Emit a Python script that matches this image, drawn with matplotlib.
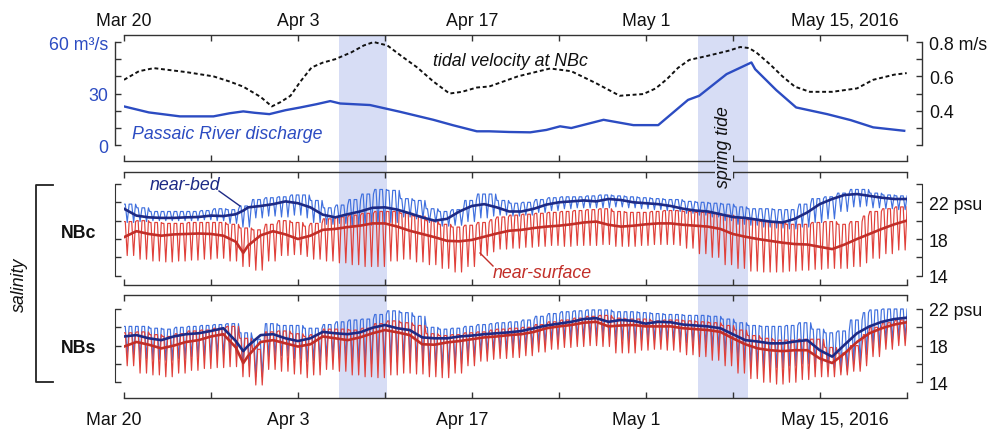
import matplotlib
matplotlib.use('Agg')
import matplotlib.pyplot as plt
from matplotlib.lines import Line2D

plt.rcParams['font.family'] = ['Liberation Sans', 'DejaVu Sans']

# =========================================================
# data (days since Mar 20, 2016)
# =========================================================
DATE_TICKS  = [0, 7, 14, 21, 28, 35, 42, 49, 56, 63]
DATE_LABELS = ['Mar 20', '', 'Apr 3', '', 'Apr 17', '', 'May 1', '', 'May 15, 2016', '']

SPRING_TIDES = [(17.3, 21.15), (46.2, 50.2)]

# Passaic River discharge (m3/s)
Q_DAYS = [0, 2.0, 4.5, 7.2, 8.5, 9.6, 10.5, 11.7, 13.0, 14.2, 15.5, 16.6, 17.4, 19.8,
          22.2, 24.9, 26.5, 28.4, 29.4, 31.0, 32.7, 34.0, 35.1, 36.0, 38.6, 41.0, 43.0,
          45.4, 46.3, 48.5, 50.5, 50.8, 52.5, 54.1, 56.6, 58.5, 60.3, 62.8]
Q_VALUES = [22.5, 19.0, 16.7, 16.7, 18.5, 19.6, 18.8, 18.0, 20.3, 21.9, 23.8, 25.6, 24.2, 23.3,
            19.4, 14.7, 11.5, 8.0, 8.0, 7.6, 7.4, 8.8, 10.9, 9.9, 14.7, 11.6, 11.6,
            26.3, 28.7, 41.3, 48.1, 44.2, 32.0, 21.9, 18.0, 14.5, 10.3, 8.3]

# tidal velocity amplitude at NBc (m/s)
V_DAYS = [0, 1.2, 2.4, 5.0, 7.2, 8.5, 9.6, 11.0, 11.9, 12.6, 13.4, 14.2, 15.1, 16.0, 17.0,
          18.3, 19.3, 20.1, 21.2, 22.3, 23.6, 24.9, 26.2, 27.2, 28.4, 29.4, 31.7, 34.3,
          36.0, 38.0, 39.9, 41.8, 42.8, 43.7, 44.6, 45.5, 47.0, 48.7, 49.6, 50.3, 50.9,
          52.0, 53.0, 54.0, 55.2, 57.0, 59.0, 60.3, 62.0, 63.0]
V_VALUES = [0.58, 0.63, 0.648, 0.625, 0.60, 0.57, 0.54, 0.48, 0.425, 0.45, 0.487, 0.57, 0.652, 0.68, 0.70,
            0.74, 0.78, 0.80, 0.78, 0.72, 0.652, 0.57, 0.50, 0.51, 0.535, 0.541, 0.60, 0.646,
            0.63, 0.56, 0.487, 0.497, 0.53, 0.584, 0.65, 0.696, 0.72, 0.75, 0.771, 0.765, 0.739,
            0.67, 0.60, 0.54, 0.51, 0.51, 0.53, 0.58, 0.61, 0.619]

# tidally filtered salinity (psu)
LP_DAYS = [0, 1, 2, 3, 4, 5, 6, 7, 8, 9, 9.6] + list(range(10, 64))
NBC_BED_LP = [21.3, 20.55, 20.36, 20.3, 20.3, 20.36, 20.4, 20.55, 20.5, 20.7, 21.1,
              21.45, 21.6, 21.8, 22.1, 21.9, 21.45, 20.65, 20.36, 20.7, 21.0,
              21.4, 21.45, 21.2, 20.8, 20.36, 20.0, 20.2, 21.0, 21.6, 21.8,
              21.45, 21.0, 21.0, 21.3, 21.75, 22.0, 22.1, 22.2, 22.1, 22.36,
              22.25, 22.0, 21.9, 21.8, 21.6, 21.3, 21.1, 21.0, 20.7, 20.4,
              20.3, 20.1, 19.9, 19.8, 20.2, 20.9, 21.8, 22.36, 22.8, 22.9,
              22.7, 22.5, 22.36, 22.36]
NBC_SURF_LP = [18.2, 18.85, 18.55, 18.36, 18.5, 18.55, 18.6, 18.55, 18.36, 17.7, 16.5,
               17.3, 18.4, 18.85, 18.5, 18.0, 18.36, 19.0, 19.1, 19.3, 19.45,
               19.7, 19.7, 19.35, 18.9, 18.55, 18.2, 17.8, 17.75, 17.9, 18.25,
               18.6, 18.9, 19.0, 19.2, 19.35, 19.45, 19.6, 19.8, 19.9, 19.55,
               19.35, 19.45, 19.6, 19.7, 19.7, 19.55, 19.45, 19.35, 19.1, 18.55,
               18.25, 18.0, 17.8, 17.6, 17.45, 17.4, 17.15, 16.9, 17.4, 18.0,
               18.55, 19.1, 19.6, 20.0]
NBS_BED_LP = [19.0, 19.15, 18.8, 18.6, 19.0, 19.25, 19.35, 19.6, 19.9, 18.5, 17.4,
              18.0, 19.15, 19.25, 18.8, 18.5, 18.8, 19.5, 19.35, 19.25, 19.45,
              19.95, 20.25, 19.9, 19.7, 18.9, 18.8, 18.8, 19.0, 19.1, 19.25,
              19.35, 19.45, 19.6, 19.9, 20.2, 20.4, 20.6, 20.9, 21.0, 20.6,
              20.8, 20.7, 20.4, 20.6, 20.55, 20.3, 20.2, 20.1, 19.9, 19.25,
              18.6, 18.45, 18.25, 18.25, 18.45, 18.6, 17.5, 16.8, 18.1, 19.35,
              20.1, 20.6, 20.9, 21.05]
NBS_SURF_LP = [17.9, 18.4, 18.1, 17.7, 18.0, 18.4, 18.6, 19.0, 19.25, 17.8, 16.1,
               16.9, 18.4, 18.6, 18.25, 17.9, 18.15, 19.0, 18.8, 18.6, 18.9,
               19.35, 19.7, 19.45, 19.15, 18.15, 18.1, 18.35, 18.5, 18.7, 18.9,
               19.0, 19.15, 19.25, 19.5, 19.9, 20.1, 20.25, 20.5, 20.6, 20.1,
               20.2, 20.25, 20.1, 20.1, 20.1, 19.9, 19.8, 19.7, 19.5, 18.8,
               18.15, 17.7, 17.5, 17.4, 17.5, 17.5, 16.6, 16.1, 17.15, 18.4,
               19.35, 19.9, 20.3, 20.55]

# raw salinity: daily tidal highs / lows (day 0..63)
NBC_BED_HI = [21.8, 21.4, 21.0, 21.0, 21.0, 21.0, 21.1, 21.3, 21.2, 21.6,
              22.3, 22.5, 22.6, 22.8, 22.8, 22.2, 21.4, 21.7, 22.3, 22.9,
              23.4, 23.3, 22.4, 22.2, 21.3, 21.0, 21.2, 22.2, 22.9, 22.9,
              22.2, 21.9, 22.0, 22.3, 22.5, 22.6, 22.6, 22.7, 22.8, 22.7,
              22.6, 22.5, 22.4, 22.3, 22.3, 22.1, 22.0, 21.9, 21.8, 21.5,
              21.3, 21.3, 21.2, 21.2, 21.8, 22.4, 22.6, 23.0, 23.4, 23.4,
              23.0, 22.8, 22.7, 22.7]
NBC_BED_LO = [19.8, 19.9, 20.0, 20.0, 20.0, 20.0, 20.1, 20.0, 19.7, 19.3,
              20.3, 20.5, 20.4, 20.6, 20.3, 19.8, 19.6, 19.7, 19.4, 19.5,
              19.6, 19.8, 20.4, 20.2, 19.8, 19.4, 19.5, 19.9, 20.3, 20.5,
              20.6, 20.5, 20.6, 20.9, 21.1, 21.3, 21.4, 21.4, 21.4, 21.5,
              21.4, 21.3, 21.2, 21.1, 21.0, 20.8, 20.6, 20.4, 20.0, 19.6,
              19.5, 19.3, 19.2, 19.1, 19.3, 19.8, 20.2, 21.0, 21.5, 21.6,
              21.4, 21.3, 21.2, 21.2]
NBC_SURF_HI = [19.9, 20.0, 19.8, 19.7, 19.7, 19.8, 19.8, 19.8, 19.6, 19.2,
               19.0, 19.6, 20.0, 19.8, 19.4, 19.7, 20.2, 20.4, 20.6, 20.8,
               21.0, 21.0, 20.8, 20.5, 20.0, 19.6, 19.3, 19.5, 19.8, 20.1,
               20.4, 20.6, 20.7, 20.8, 20.9, 21.0, 21.1, 21.2, 21.3, 21.0,
               20.9, 20.9, 21.0, 21.1, 21.1, 21.0, 20.9, 20.8, 20.6, 20.3,
               20.1, 19.9, 19.8, 19.6, 19.6, 19.8, 19.9, 19.6, 19.9, 20.5,
               21.0, 21.3, 21.5, 21.6]
NBC_SURF_LO = [16.2, 15.8, 15.6, 15.5, 15.6, 15.7, 15.8, 15.9, 15.6, 15.0,
               14.6, 15.6, 16.2, 16.3, 16.1, 15.8, 15.6, 15.4, 15.2, 15.0,
               15.0, 15.6, 15.8, 15.5, 15.2, 14.8, 14.4, 15.0, 16.2, 16.6,
               16.9, 17.0, 17.1, 17.2, 17.3, 17.2, 17.3, 17.3, 17.4, 17.2,
               17.2, 17.3, 17.4, 17.4, 17.3, 17.0, 16.4, 16.0, 15.2, 14.8,
               14.5, 14.4, 14.4, 14.5, 14.6, 14.7, 14.8, 14.8, 15.0, 15.4,
               15.9, 16.4, 16.8, 17.0]
NBS_BED_HI = [20.1, 20.1, 19.9, 19.8, 20.0, 20.1, 20.2, 20.3, 20.4, 19.4,
              18.7, 20.4, 20.2, 20.2, 19.9, 19.9, 20.3, 20.6, 20.8, 20.9,
              21.4, 21.8, 21.6, 21.2, 20.0, 19.8, 19.9, 20.1, 20.3, 20.4,
              20.5, 20.6, 20.8, 21.2, 21.5, 21.7, 21.8, 21.9, 21.9, 21.7,
              21.7, 21.6, 21.5, 21.4, 21.4, 21.3, 21.3, 21.2, 20.9, 20.5,
              20.2, 20.1, 20.1, 20.2, 20.5, 19.8, 19.4, 19.6, 20.8, 21.6,
              21.9, 22.0, 22.0, 22.0]
NBS_BED_LO = [17.0, 16.6, 16.5, 16.4, 16.6, 16.8, 16.9, 17.0, 17.1, 15.8,
              14.6, 16.8, 16.9, 16.6, 16.2, 16.4, 16.8, 16.6, 16.2, 16.0,
              16.0, 16.2, 16.4, 16.2, 15.8, 15.6, 16.0, 16.8, 17.2, 17.4,
              17.5, 17.6, 17.8, 18.2, 18.5, 18.7, 18.8, 19.0, 19.0, 18.6,
              18.4, 18.6, 18.6, 18.6, 18.5, 18.3, 18.1, 17.8, 17.2, 16.4,
              15.8, 15.6, 15.6, 15.8, 16.0, 16.0, 15.6, 15.2, 16.0, 17.0,
              17.8, 18.4, 18.8, 19.0]
NBS_SURF_HI = [19.4, 19.5, 19.2, 19.0, 19.3, 19.6, 19.7, 19.9, 20.1, 18.8,
               17.6, 19.5, 19.6, 19.3, 19.0, 19.2, 19.8, 19.8, 19.7, 19.9,
               20.4, 20.7, 20.5, 20.2, 19.3, 19.1, 19.2, 19.4, 19.5, 19.7,
               19.8, 19.9, 20.0, 20.3, 20.6, 20.8, 21.0, 21.2, 21.3, 21.0,
               20.9, 20.9, 20.7, 20.8, 20.8, 20.7, 20.6, 20.5, 20.2, 19.7,
               19.1, 18.8, 18.6, 18.6, 18.7, 18.7, 17.8, 17.2, 18.0, 19.2,
               20.0, 20.5, 20.8, 21.0]
NBS_SURF_LO = [15.8, 15.0, 14.8, 14.6, 15.0, 15.3, 15.5, 15.6, 15.7, 14.6,
               13.7, 15.4, 15.2, 14.9, 14.5, 14.8, 15.4, 15.2, 14.8, 14.6,
               14.5, 14.8, 15.0, 14.9, 14.6, 14.5, 15.0, 15.8, 16.3, 16.5,
               16.6, 16.7, 16.9, 17.3, 17.6, 17.8, 17.9, 18.0, 17.9, 17.2,
               17.2, 17.5, 17.6, 17.5, 17.3, 17.0, 16.8, 16.4, 15.8, 15.0,
               14.4, 14.0, 13.8, 14.0, 14.3, 14.6, 14.6, 14.8, 15.2, 15.8,
               16.8, 17.6, 18.0, 18.3]

# =========================================================
# style
# =========================================================
W_PX, H_PX = 991, 431
FS = 12.8
AX_COL = '#333333'
Q_COL = '#2c4cc2'
BED_RAW = '#4070de'
BED_LP = '#1d2a85'
SURF_RAW = '#e0403a'
SURF_LP = '#c22e28'
SHADE = '#d7ddf5'
TIDE = 0.5175   # M2 period in days


def fx(px):
    return px / W_PX


def fy(py):
    return 1 - py / H_PX


def tidal_trace(hi, lo):
    # one high and one low per M2 tide, values from the daily lists
    t, s = [], []
    k = 0
    while k * TIDE < 63:
        t0 = k * TIDE
        d = int(t0)
        for frac, val in ((0.0, hi[d]), (0.2, hi[d]), (0.5, lo[d]), (0.8, hi[d])):
            t.append(t0 + frac * TIDE)
            s.append(val)
        k += 1
    return t, s


def style_panel(ax):
    ax.set_xlim(0, 63)
    ax.patch.set_visible(False)
    for side in ('top', 'bottom'):
        ax.spines[side].set_color(AX_COL)
        ax.spines[side].set_linewidth(1.0)
    ax.set_xticks(DATE_TICKS)
    ax.tick_params(axis='x', which='both', direction='in', top=True, bottom=True,
                   length=4, width=1.0, color=AX_COL,
                   labelbottom=False, labeltop=False)


def style_y(ax, side, ticks, labels, bounds, color, offset):
    other = 'right' if side == 'left' else 'left'
    ax.spines[other].set_visible(False)
    ax.spines[side].set_position(('outward', offset))
    ax.spines[side].set_bounds(*bounds)
    ax.spines[side].set_color(AX_COL)
    ax.spines[side].set_linewidth(1.0)
    ax.set_yticks(ticks)
    ax.set_yticklabels(labels)
    if side == 'left':
        ax.yaxis.tick_left()
    else:
        ax.yaxis.tick_right()
    ax.tick_params(axis='y', direction='in', length=4, width=1.0, color=AX_COL,
                   labelsize=FS, labelcolor=color, pad=5)


L, R = 124, 906.7
fig = plt.figure(figsize=(W_PX / 100, H_PX / 100), dpi=100)

# spring-tide shading behind all panels
ax_bg = fig.add_axes([fx(L), fy(399.3), fx(R - L), fy(36) - fy(399.3)], zorder=-1)
ax_bg.set_xlim(0, 63)
ax_bg.axis('off')
for a, b in SPRING_TIDES:
    ax_bg.axvspan(a, b, color=SHADE, lw=0)

# ---------------- top panel: discharge + tidal velocity ----------------
ax_q = fig.add_axes([fx(L), fy(162), fx(R - L), fy(36) - fy(162)])
style_panel(ax_q)
ax_q.set_ylim(-9.3, 64.1)
style_y(ax_q, 'left', [0, 10, 20, 30, 40, 50, 60], ['0', '', '', '30', '', '', '60 m³/s'],
        (0, 60), Q_COL, 6.5)
ax_q.plot(Q_DAYS, Q_VALUES, color=Q_COL, lw=1.7, solid_joinstyle='round')

ax_v = ax_q.twinx()
ax_v.patch.set_visible(False)
ax_v.set_xlim(0, 63)
ax_v.set_ylim(0.107, 0.841)
ax_v.spines['top'].set_visible(False)
ax_v.spines['bottom'].set_visible(False)
style_y(ax_v, 'right', [0.2, 0.3, 0.4, 0.5, 0.6, 0.7, 0.8],
        ['', '', '0.4', '', '0.6', '', '0.8 m/s'], (0.2, 0.8), '#111111', 11)
ax_v.plot(V_DAYS, V_VALUES, color='#111111', lw=1.4, ls=(0, (2.0, 1.4)))

ax_q.text(31.1, 0.8, 'tidal velocity at NBc', transform=ax_q.get_xaxis_transform(),
          ha='center', va='center', style='italic', fontsize=FS, color='#111111')
ax_q.text(0.65, 0.215, 'Passaic River discharge', transform=ax_q.get_xaxis_transform(),
          ha='left', va='center', style='italic', fontsize=FS, color=Q_COL)

# date labels along the top
for d, lbl in zip(DATE_TICKS, DATE_LABELS):
    if lbl:
        ha, dx = ('left', -29) if ',' in lbl else ('center', 0)
        ax_q.annotate(lbl, xy=(d, 1), xycoords=('data', 'axes fraction'),
                      xytext=(dx, 15), textcoords='offset pixels',
                      ha=ha, va='center', fontsize=FS, color='#111111')

# ---------------- salinity panels ----------------
panels = [
    (173.3, 285.7, (13.02, 25.27), [14, 16, 18, 20, 22, 24], ['14', '', '18', '', '22 psu', ''],
     (14, 24), NBC_BED_HI, NBC_BED_LO, NBC_SURF_HI, NBC_SURF_LO, NBC_BED_LP, NBC_SURF_LP),
    (295.7, 399.3, (12.25, 23.56), [14, 16, 18, 20, 22], ['14', '', '18', '', '22 psu'],
     (14, 22), NBS_BED_HI, NBS_BED_LO, NBS_SURF_HI, NBS_SURF_LO, NBS_BED_LP, NBS_SURF_LP),
]
sal_axes = []
for (top, bot, ylim, ticks, labels, bounds,
     bed_hi, bed_lo, surf_hi, surf_lo, bed_lp, surf_lp) in panels:
    ax = fig.add_axes([fx(L), fy(bot), fx(R - L), fy(top) - fy(bot)])
    style_panel(ax)
    ax.set_ylim(*ylim)
    ax.spines['left'].set_position(('outward', 6.5))
    ax.spines['left'].set_bounds(*bounds)
    ax.spines['left'].set_color(AX_COL)
    ax.spines['right'].set_position(('outward', 11))
    ax.spines['right'].set_bounds(*bounds)
    ax.spines['right'].set_color(AX_COL)
    ax.set_yticks(ticks)
    ax.set_yticklabels(labels)
    ax.tick_params(axis='y', direction='in', left=True, right=True, labelleft=False,
                   labelright=True, length=4, width=1.0, color=AX_COL,
                   labelsize=FS, labelcolor='#111111', pad=5)

    t, s = tidal_trace(bed_hi, bed_lo)
    ax.plot(t, s, color=BED_RAW, lw=0.85)
    t, s = tidal_trace(surf_hi, surf_lo)
    ax.plot(t, s, color=SURF_RAW, lw=0.85)
    ax.plot(LP_DAYS, surf_lp, color=SURF_LP, lw=1.9)
    ax.plot(LP_DAYS, bed_lp, color=BED_LP, lw=1.9)
    sal_axes.append(ax)

ax_c, ax_s = sal_axes

# date labels along the bottom
for d, lbl in zip(DATE_TICKS, DATE_LABELS):
    if lbl:
        ha, dx = ('left', -39) if ',' in lbl else ('center', -10)
        ax_s.annotate(lbl, xy=(d, 0), xycoords=('data', 'axes fraction'),
                      xytext=(dx, -21), textcoords='offset pixels',
                      ha=ha, va='center', fontsize=FS, color='#111111')

# series labels with leader lines
fig.text(fx(150), fy(186), 'near-bed', ha='left', va='center', style='italic',
         fontsize=FS, color=BED_LP)
fig.add_artist(Line2D([fx(219), fx(240)], [fy(192), fy(207)], color=BED_LP, lw=1.0))
fig.text(fx(493), fy(273), 'near-surface', ha='left', va='center', style='italic',
         fontsize=FS, color=SURF_LP)
fig.add_artist(Line2D([fx(480), fx(493)], [fy(254), fy(267)], color=SURF_LP, lw=1.0))

fig.text(fx(724), fy(147), 'spring tide', rotation=90, ha='center', va='center',
         style='italic', fontsize=FS, color='#111111',
         bbox=dict(facecolor=SHADE, edgecolor='none', pad=0.5))

# station labels and salinity bracket
fig.text(fx(79), fy(234), 'NBc', ha='center', va='center', fontweight='bold',
         fontsize=FS, color='#111111')
fig.text(fx(79), fy(349), 'NBs', ha='center', va='center', fontweight='bold',
         fontsize=FS, color='#111111')
fig.add_artist(Line2D([fx(53), fx(36), fx(36), fx(53)],
                      [fy(185.7), fy(185.7), fy(383.3), fy(383.3)],
                      color='#222222', lw=1.3))
fig.text(fx(19), fy(285), 'salinity', rotation=90, ha='center', va='center',
         style='italic', fontsize=FS, color='#111111')

fig.savefig('out.png', dpi=100)
